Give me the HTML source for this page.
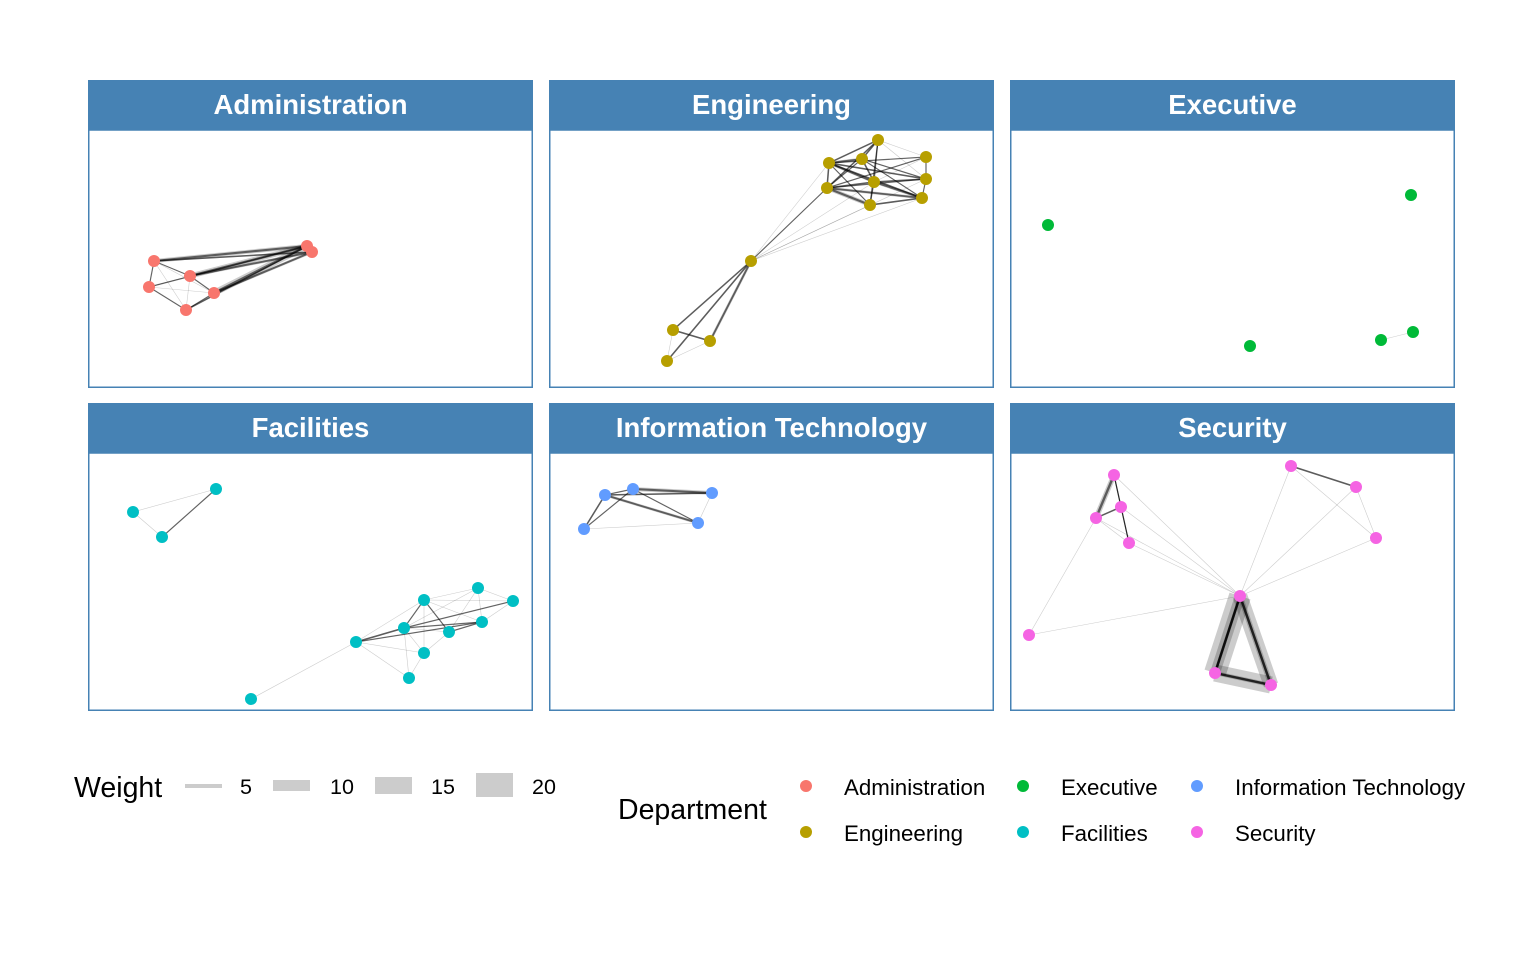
<!DOCTYPE html>
<html><head><meta charset="utf-8"><style>
body{margin:0;background:#fff;font-family:"Liberation Sans",Arial,sans-serif}
svg text{font-family:"Liberation Sans",Arial,sans-serif}
</style></head><body>
<svg id="chart" width="1536" height="949" viewBox="0 0 1536 949" xmlns="http://www.w3.org/2000/svg">
<rect width="1536" height="949" fill="#fff"/>
<g id="panels"></g>
<g id="legend">
  <text x="74" y="797" font-size="28.5" fill="#000">Weight</text>
  <rect x="185" y="784" width="37" height="4" fill="#cccccc"/>
  <text x="240" y="794" font-size="21.5">5</text>
  <rect x="273" y="780" width="37" height="11" fill="#cccccc"/>
  <text x="330" y="794" font-size="21.5">10</text>
  <rect x="375" y="777" width="37" height="17" fill="#cccccc"/>
  <text x="431" y="794" font-size="21.5">15</text>
  <rect x="476" y="773" width="37" height="24" fill="#cccccc"/>
  <text x="532" y="794" font-size="21.5">20</text>
  <text x="618" y="819" font-size="28.5">Department</text>
</g>
</svg>
<script>
const departments=["Administration","Engineering","Executive","Facilities","Information Technology","Security"];
const colors=["#F8766D","#B79F00","#00BA38","#00BFC4","#619CFF","#F564E3"];
// node layout coordinates (local layout units, 0..445 x 0..258)
const nodesAdmin=[[66,131],[102,146],[61,157],[126,163],[98,180],[219,116],[224,122]];
const edgesAdmin=[[0,1,2],[0,2,2],[0,3,1],[0,4,1],[1,2,1],[1,3,2],[1,4,1],[2,3,1],[2,4,2],[3,4,2],[0,5,5],[0,6,3],[1,5,6],[1,6,4],[3,5,7],[3,6,4],[4,5,3],[2,5,2],[5,6,2]];
const nodesEng=[[280,33],[313,29],[329,10],[377,27],[377,49],[325,52],[278,58],[321,75],[373,68],[202,131],[124,200],[161,211],[118,231]];
const edgesEng=[[0,1,4],[0,2,3],[0,3,2],[0,4,3],[0,5,4],[0,6,3],[0,7,2],[0,8,3],[1,2,3],[1,5,3],[1,6,2],[1,4,2],[1,8,2],[2,3,1],[2,5,2],[2,6,3],[2,7,2],[2,4,1],[3,4,2],[3,6,2],[3,5,1],[4,5,3],[4,6,2],[4,8,2],[5,6,3],[5,7,2],[5,8,4],[6,7,5],[6,8,4],[7,8,3],[9,0,1],[9,6,2],[9,5,1],[9,7,1],[9,8,1],[9,4,1],[9,10,3],[9,11,4],[9,12,3],[10,11,3],[10,12,1],[11,12,1]];
const nodesExec=[[38,95],[401,65],[240,216],[371,210],[403,202]];
const edgesExec=[[3,4,1]];
const nodesFac=[[45,59],[128,36],[74,84],[163,246],[268,189],[316,175],[336,147],[390,135],[425,148],[394,169],[361,179],[336,200],[321,225]];
const edgesFac=[[0,1,1],[0,2,1],[1,2,2],[3,4,1],[4,5,3],[4,9,2],[4,6,1],[4,11,1],[4,12,1],[5,6,2],[5,7,1],[5,8,2],[5,9,2],[5,10,1],[5,11,1],[5,12,1],[6,7,1],[6,8,1],[6,9,1],[6,10,2],[7,8,1],[7,10,1],[8,9,1],[9,10,2],[10,11,1],[11,12,1],[6,11,1],[7,9,1]];
const nodesIT=[[56,42],[84,36],[163,40],[149,70],[35,76]];
const edgesIT=[[0,1,2],[0,2,3],[0,3,4],[0,4,3],[1,2,5],[1,3,2],[2,3,1],[3,4,1],[1,4,2]];
const nodesSec=[[104,22],[111,54],[86,65],[119,90],[281,13],[346,34],[366,85],[230,143],[19,182],[205,220],[261,232]];
const edgesSec=[[0,1,2],[0,2,6],[0,3,2],[1,2,3],[1,3,2],[2,3,1],[4,5,3],[4,6,1],[5,6,1],[0,7,1],[1,7,1],[2,7,1],[3,7,1],[4,7,1],[5,7,1],[6,7,1],[2,8,1],[8,7,1],[7,9,20],[7,9,10],[7,9,4],[7,10,14],[7,10,6],[9,10,16],[9,10,5]];
const allNodes=[nodesAdmin,nodesEng,nodesExec,nodesFac,nodesIT,nodesSec];
const allEdges=[edgesAdmin,edgesEng,edgesExec,edgesFac,edgesIT,edgesSec];
const legendOrder=[[0,806,786],[1,806,832],[2,1023,786],[3,1023,832],[4,1197,786],[5,1197,832]];

const NS="http://www.w3.org/2000/svg";
const svg=document.getElementById('chart');
const panelsG=document.getElementById('panels');
const colX=[88,549,1010], rowY=[80,403], PW=445, STRIP=50, PH=258;
function mk(tag,attrs,parent){const e=document.createElementNS(NS,tag);for(const k in attrs)e.setAttribute(k,attrs[k]);parent.appendChild(e);return e;}
function widthScale(w){return Math.max(0.6,1.2*w-2);}
departments.forEach((d,i)=>{
  const px=colX[i%3], py=rowY[Math.floor(i/3)];
  const g=mk('g',{},panelsG);
  
  
  const strip=mk('rect',{x:px,y:py,width:PW,height:STRIP,fill:'#4682B4'},g);
  
  
  const t=mk('text',{x:px+PW/2,y:py+34,'text-anchor':'middle','font-size':27.5,'font-weight':'bold',fill:'#fff'},g);
  t.textContent=d;
  
  
  const x0=px, y0=py+STRIP;
  const xs=v=>x0+v, ys=v=>y0+v;
  const nodes=allNodes[i];
  allEdges[i].forEach(e=>{
    const a=nodes[e[0]], b=nodes[e[1]];
    const l=mk('line',{x1:xs(a[0]),y1:ys(a[1]),x2:xs(b[0]),y2:ys(b[1]),stroke:'#000','stroke-opacity':0.2,'stroke-width':widthScale(e[2])},g);
    
    
    if(e[2]>1){
      const c=mk('line',{x1:xs(a[0]),y1:ys(a[1]),x2:xs(b[0]),y2:ys(b[1]),stroke:'#000','stroke-opacity':0.55,'stroke-width':Math.min(2.5,0.6+e[2]*0.3)},g);
      
      
    }
  });
  nodes.forEach(n=>{
    const c=mk('circle',{cx:xs(n[0]),cy:ys(n[1]),r:6,fill:colors[i]},g);
    
    
  });
  const border=mk('rect',{x:px+0.75,y:py+STRIP,width:PW-1.5,height:PH-0.75,fill:'none',stroke:'#4682B4','stroke-width':1.5},g);
  
  
});
const lg=document.getElementById('legend');
legendOrder.forEach(o=>{
  const c=mk('circle',{cx:o[1],cy:o[2],r:6,fill:colors[o[0]]},lg);
  
  
  const t=mk('text',{x:o[1]+38,y:o[2]+9,'font-size':22.3},lg);
  t.textContent=departments[o[0]];
  
  
});
</script>
</body></html>
